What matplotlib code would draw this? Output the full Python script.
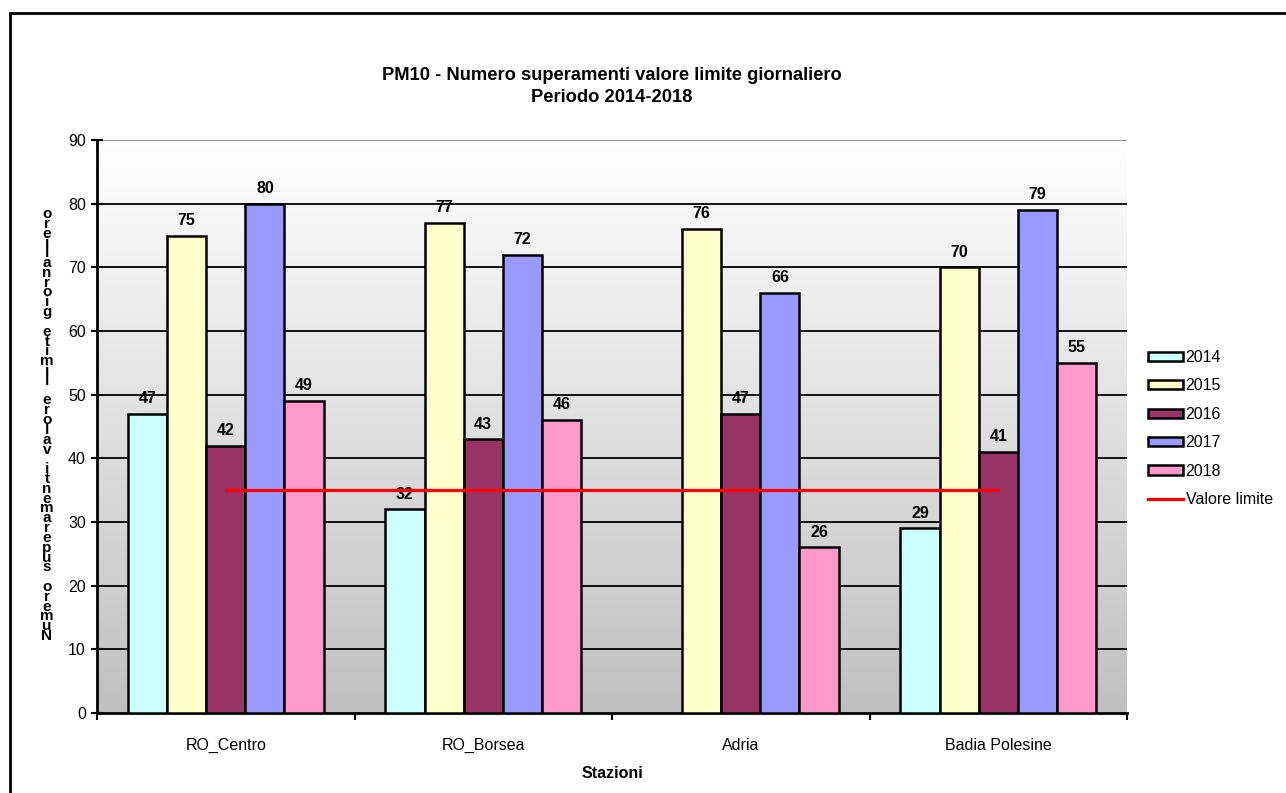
import numpy as np
import matplotlib.pyplot as plt
from matplotlib.patches import Rectangle, Patch
from matplotlib.lines import Line2D

plt.rcParams['font.family'] = ['Liberation Sans', 'DejaVu Sans']

stazioni = ['RO_Centro', 'RO_Borsea', 'Adria', 'Badia Polesine']
anni = ['2014', '2015', '2016', '2017', '2018']
v2014 = [47, 32, np.nan, 29]
v2015 = [75, 77, 76, 70]
v2016 = [42, 43, 47, 41]
v2017 = [80, 72, 66, 79]
v2018 = [49, 46, 26, 55]
valore_limite = 35
colori = ['#CCFFFF', '#FFFFCC', '#993366', '#9999FF', '#FF99CC']

serie = [v2014, v2015, v2016, v2017, v2018]

fig = plt.figure(figsize=(12.86, 7.93), dpi=100)
ax = fig.add_axes([97/1286, 1-713/793, 1030/1286, 573/793])

# gradient background (white top -> grey bottom)
grad = np.linspace(0, 1, 256).reshape(-1, 1)
top = np.array([1.0, 1.0, 1.0])
bot = np.array([0xc0, 0xc0, 0xc0]) / 255
img = top[None, None, :] * (1 - grad[:, :, None]) + bot[None, None, :] * grad[:, :, None]
ax.imshow(img, extent=[0, 1, 0, 1], transform=ax.transAxes, aspect='auto', zorder=0)

x = np.arange(len(stazioni))
w = 0.152
for i, (vals, c, anno) in enumerate(zip(serie, colori, anni)):
    pos = x + (i - 2) * w
    ax.bar(pos, vals, width=w, color=c, edgecolor='black', linewidth=1.8, zorder=3, label=anno)
    for p, v in zip(pos, vals):
        if not np.isnan(v):
            ax.text(p, v + 1.2, str(int(v)), ha='center', va='bottom', fontsize=11.5,
                    fontweight='bold', zorder=4)

ax.plot([x[0], x[-1]], [valore_limite, valore_limite], color='red', linewidth=2.3, zorder=5)

ax.set_xlim(-0.5, len(stazioni) - 0.5)
ax.set_ylim(0, 90)
ax.set_yticks(np.arange(0, 91, 10))
for yv in np.arange(10, 81, 10):
    ax.axhline(yv, color='black', linewidth=1.3, zorder=1)
ax.axhline(90, color='#999999', linewidth=1.5, zorder=1)

ax.set_xticks(np.arange(-0.5, len(stazioni), 1))
ax.set_xticklabels([])
ax.set_xticks(x, minor=True)
ax.set_xticklabels(stazioni, minor=True, fontsize=11.5)
ax.tick_params(axis='x', which='major', direction='out', length=5, width=1.5)
ax.tick_params(axis='x', which='minor', length=0, pad=18)
ax.tick_params(axis='y', direction='inout', length=8, width=1.5, labelsize=11.5, pad=4)

for s in ['left', 'bottom']:
    ax.spines[s].set_linewidth(2)
ax.spines['right'].set_visible(False)
ax.spines['top'].set_visible(False)

ax.set_xlabel('Stazioni', fontsize=11.5, fontweight='bold', labelpad=9)

# stacked vertical y label as in the original
ylab = 'Numero superamenti valore limite giornaliero'
fig.text(47/1286, 1-425/793, '\n'.join(reversed(ylab)), ha='center', va='center',
         fontsize=11, fontweight='bold', linespacing=0.62)

fig.text(0.476, 1-75/793, 'PM10 - Numero superamenti valore limite giornaliero',
         ha='center', va='center', fontsize=13.2, fontweight='bold')
fig.text(0.476, 1-97/793, 'Periodo 2014-2018',
         ha='center', va='center', fontsize=13.2, fontweight='bold')

handles = [Patch(facecolor=c, edgecolor='black', linewidth=1.8) for c in colori]
handles.append(Line2D([0], [0], color='red', linewidth=2.3))
fig.legend(handles, anni + ['Valore limite'], loc='upper left',
           bbox_to_anchor=(1148/1286, 1-350/793), frameon=False, fontsize=11.5,
           handlelength=2.2, handleheight=0.5, handletextpad=0.15, labelspacing=0.84,
           borderpad=0, borderaxespad=0)

fig.patches.append(Rectangle((10/1286, -0.5), 2, 0.5 + 1 - 13/793, transform=fig.transFigure,
                             fill=False, edgecolor='black', linewidth=2))

fig.savefig('out.png', dpi=100)
